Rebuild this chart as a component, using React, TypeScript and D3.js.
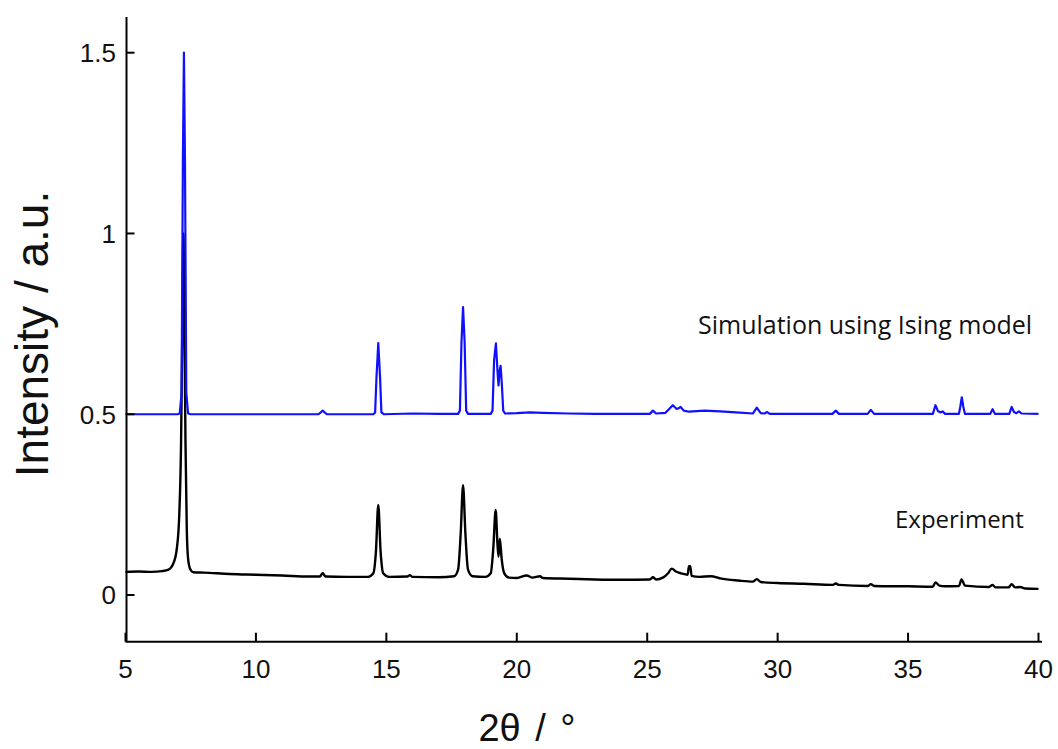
import React from "react";
import * as d3 from "d3";

const xTicks = [5, 10, 15, 20, 25, 30, 35, 40];
const yTicks = [0, 0.5, 1, 1.5];
const yTickLabels = ["0", "0.5", "1", "1.5"];

// Simulation (Ising model), offset +0.5
const simX = [5.0, 7.0, 7.08, 7.15, 7.2, 7.24, 7.28, 7.33, 7.4, 7.5, 12.4, 12.5, 12.56, 12.62, 12.72, 14.5, 14.57, 14.62, 14.69, 14.76, 14.81, 14.9, 16.0, 17.0, 17.75, 17.82, 17.88, 17.94, 18.0, 18.06, 18.13, 19.0, 19.07, 19.13, 19.2, 19.26, 19.3, 19.34, 19.38, 19.43, 19.48, 19.55, 20.0, 20.5, 21.0, 22.0, 23.0, 24.0, 25.1, 25.22, 25.34, 25.7, 25.85, 25.98, 26.12, 26.2, 26.28, 26.4, 26.6, 27.2, 27.8, 28.4, 29.05, 29.2, 29.35, 29.5, 29.6, 29.7, 32.1, 32.23, 32.35, 33.45, 33.57, 33.7, 35.95, 36.05, 36.15, 36.25, 36.32, 36.42, 36.95, 37.0, 37.06, 37.12, 37.18, 38.15, 38.24, 38.33, 38.88, 38.97, 39.06, 39.15, 39.25, 39.35, 40.0];
const simY = [0.5, 0.5, 0.502, 0.56, 1.2, 1.5, 1.2, 0.56, 0.502, 0.5, 0.5, 0.506, 0.51, 0.506, 0.5, 0.5, 0.505, 0.6, 0.697, 0.6, 0.505, 0.5, 0.502, 0.501, 0.501, 0.51, 0.7, 0.796, 0.7, 0.51, 0.501, 0.501, 0.51, 0.65, 0.696, 0.62, 0.58, 0.62, 0.634, 0.58, 0.51, 0.502, 0.503, 0.505, 0.504, 0.502, 0.501, 0.501, 0.501, 0.51, 0.502, 0.504, 0.515, 0.525, 0.515, 0.516, 0.52, 0.51, 0.507, 0.51, 0.508, 0.505, 0.502, 0.518, 0.503, 0.502, 0.506, 0.501, 0.501, 0.51, 0.501, 0.501, 0.512, 0.501, 0.501, 0.525, 0.508, 0.505, 0.508, 0.501, 0.501, 0.52, 0.547, 0.52, 0.501, 0.501, 0.514, 0.501, 0.501, 0.52, 0.506, 0.503, 0.508, 0.502, 0.501];

// Experiment
const expX = [5.0, 5.5, 6.0, 6.4, 6.65, 6.85, 6.97, 7.06, 7.13, 7.18, 7.22, 7.26, 7.3, 7.35, 7.4, 7.48, 7.6, 8.0, 9.0, 10.0, 11.0, 12.0, 12.45, 12.56, 12.67, 13.5, 14.3, 14.5, 14.6, 14.69, 14.78, 14.88, 15.1, 15.8, 15.9, 16.0, 17.0, 17.6, 17.75, 17.85, 17.94, 18.03, 18.13, 18.3, 18.8, 19.0, 19.1, 19.19, 19.26, 19.3, 19.35, 19.42, 19.52, 19.7, 20.0, 20.38, 20.6, 20.89, 21.0, 22.0, 23.0, 24.0, 25.1, 25.22, 25.34, 25.6, 25.8, 25.94, 26.1, 26.3, 26.55, 26.6, 26.65, 26.7, 27.0, 27.44, 27.8, 28.5, 29.05, 29.2, 29.35, 30.0, 31.0, 32.1, 32.23, 32.35, 33.45, 33.57, 33.7, 35.0, 35.95, 36.05, 36.2, 36.4, 36.95, 37.05, 37.18, 38.1, 38.24, 38.35, 38.85, 38.97, 39.1, 39.3, 39.5, 40.0];
const expY = [0.064, 0.065, 0.064, 0.066, 0.07, 0.09, 0.13, 0.22, 0.42, 0.75, 1.0, 0.75, 0.42, 0.18, 0.1, 0.072, 0.063, 0.062, 0.058, 0.056, 0.054, 0.051, 0.051, 0.06, 0.051, 0.05, 0.05, 0.06, 0.12, 0.249, 0.12, 0.06, 0.05, 0.051, 0.055, 0.05, 0.049, 0.052, 0.07, 0.17, 0.304, 0.17, 0.07, 0.052, 0.05, 0.06, 0.13, 0.235, 0.14, 0.106, 0.156, 0.1, 0.06, 0.048, 0.047, 0.054, 0.048, 0.052, 0.047, 0.045, 0.043, 0.042, 0.043, 0.049, 0.043, 0.048, 0.06, 0.073, 0.065, 0.06, 0.056, 0.08, 0.08, 0.053, 0.05, 0.052, 0.046, 0.04, 0.037, 0.044, 0.036, 0.033, 0.031, 0.028, 0.032, 0.028, 0.025, 0.03, 0.025, 0.024, 0.023, 0.035, 0.026, 0.024, 0.025, 0.043, 0.026, 0.022, 0.028, 0.021, 0.021, 0.03, 0.021, 0.022, 0.018, 0.017];

const W = 1058;
const H = 749;

export default function App() {
  const x = d3.scaleLinear().domain([5, 40]).range([125.5, 1038.5]);
  const y = d3.scaleLinear().domain([0, 1.5]).range([595, 52.7]);
  const yTop = y.invert(17);
  const yBot = y.invert(641.7);
  const simLine = d3
    .line<[number, number]>()
    .x((d) => x(d[0]))
    .y((d) => y(d[1]));
  const expLine = d3
    .line<[number, number]>()
    .x((d) => x(d[0]))
    .y((d) => y(d[1]))
    .curve(d3.curveMonotoneX);
  const simPts = simX.map((v, i) => [v, simY[i]] as [number, number]);
  const expPts = expX.map((v, i) => [v, expY[i]] as [number, number]);
  const axX = x(5) + 1;
  const font = "'Liberation Sans', Arial, sans-serif";
  return (
    <svg
      width={W}
      height={H}
      style={{ position: "absolute", left: 0, top: 0, background: "#fff" }}
    >
      <path d={expLine(expPts) || ""} fill="none" stroke="#000" strokeWidth={2.4} strokeLinejoin="round" />
      <path d={simLine(simPts) || ""} fill="none" stroke="#1010ff" strokeWidth={2.2} strokeLinejoin="round" />
      {/* axes */}
      <line x1={axX} x2={axX} y1={y(yTop)} y2={y(yBot)} stroke="#000" strokeWidth={2} />
      <line x1={axX - 1} x2={1042} y1={y(yBot)} y2={y(yBot)} stroke="#000" strokeWidth={2} />
      {yTicks.map((t, i) => (
        <g key={"y" + t}>
          <line x1={axX} x2={axX + 8} y1={y(t)} y2={y(t)} stroke="#000" strokeWidth={2} />
          <text x={116} y={y(t)} dy="0.36em" textAnchor="end" fontFamily={font} fontSize={26} fill="#111">
            {yTickLabels[i]}
          </text>
        </g>
      ))}
      {xTicks.map((t) => (
        <g key={"x" + t}>
          <line x1={x(t)} x2={x(t)} y1={y(yBot)} y2={y(yBot) - 9} stroke="#000" strokeWidth={2} />
          <text x={x(t)} y={678} textAnchor="middle" fontFamily={font} fontSize={26} fill="#111">
            {t}
          </text>
        </g>
      ))}
      <text x={527} y={741} textAnchor="middle" fontFamily={font} fontSize={38} fill="#111" wordSpacing={4}>
        2θ / °
      </text>
      <text
        transform={`translate(48, ${334}) rotate(-90)`}
        textAnchor="middle"
        fontFamily={font}
        fontSize={46}
        fill="#111"
      >
        Intensity / a.u.
      </text>
      <text x={698} y={334} fontFamily="'Open Sans', sans-serif" fontSize={25} fill="#111">
        Simulation using Ising model
      </text>
      <text x={895} y={528} fontFamily="'Open Sans', sans-serif" fontSize={24} fill="#111">
        Experiment
      </text>
    </svg>
  );
}
